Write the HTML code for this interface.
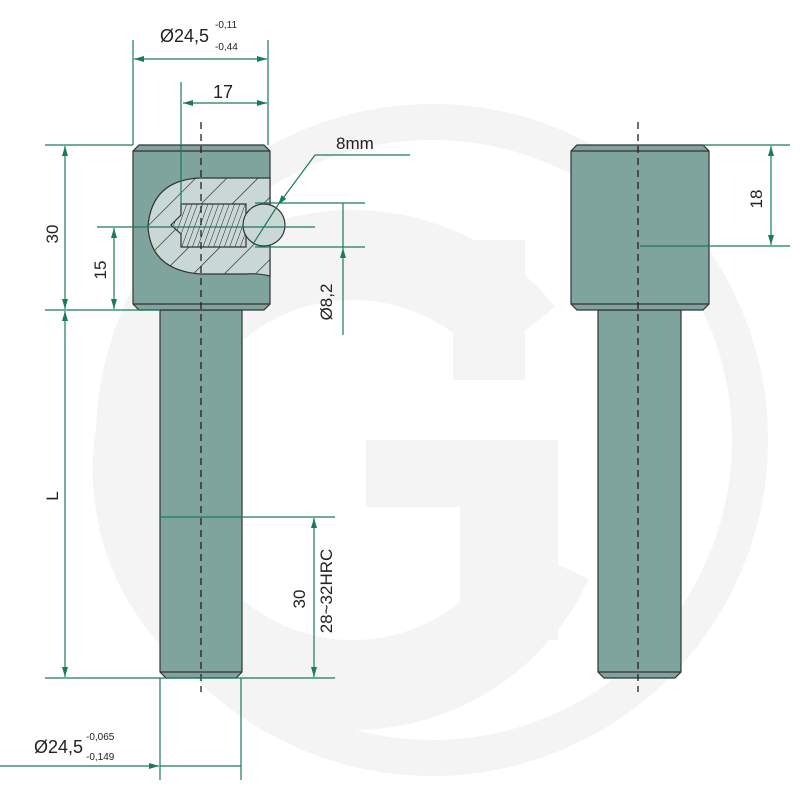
<!DOCTYPE html>
<html><head><meta charset="utf-8"><style>
html,body{margin:0;padding:0;background:#fff;width:800px;height:800px;overflow:hidden}
text{font-family:"Liberation Sans","DejaVu Sans",sans-serif;fill:#222}
</style></head><body>
<svg width="800" height="800" viewBox="0 0 800 800" xmlns="http://www.w3.org/2000/svg">
<defs>
<marker id="a" viewBox="0 0 10 6" refX="10" refY="3" markerWidth="10" markerHeight="6" orient="auto-start-reverse" markerUnits="userSpaceOnUse"><path d="M0,0 L10,3 L0,6z" fill="#1a7a5e"/></marker>
<pattern id="h" width="22" height="22" patternUnits="userSpaceOnUse" patternTransform="rotate(45)"><rect width="22" height="22" fill="#c9d8d5"/><line x1="0" y1="0" x2="0" y2="22" stroke="#222" stroke-width="1.3"/></pattern>
<pattern id="t" width="5" height="10" patternUnits="userSpaceOnUse" patternTransform="rotate(20)"><rect width="5" height="10" fill="#c9d8d5"/><line x1="0" y1="0" x2="0" y2="10" stroke="#222" stroke-width="1"/></pattern>
</defs>
<!-- watermark -->
<g fill="none" stroke="#f4f4f4">
<circle cx="432" cy="440" r="318" stroke-width="36"/>
<path d="M520,335 A215,215 0 1 0 548,560" stroke-width="90"/>
</g>
<rect x="453" y="240" width="72" height="140" fill="#f4f4f4"/>
<rect x="366" y="440" width="192" height="67" fill="#f4f4f4"/>
<rect x="460" y="440" width="98" height="200" fill="#f4f4f4"/>
<!-- left pin -->
<g stroke="#333" stroke-width="1.2">
<path d="M160,310 H242 V672 L236,678 H166 L160,672Z" fill="#7fa39d"/>
<path d="M139,145 H264 L270,151 V304 L264,310 H139 L133,304 V151Z" fill="#7fa39d"/>
<line x1="133" y1="151" x2="270" y2="151"/><line x1="133" y1="304" x2="270" y2="304"/>
<line x1="160" y1="672" x2="242" y2="672"/>
<path d="M200,178 H270 V276 Q258,273 245,274 H200 Q150,270 148,226 Q152,180 200,178Z" fill="url(#h)"/>
<path d="M181,204 H246 V247 H181 V234 L171,225 L181,215Z" fill="url(#t)"/>
<circle cx="264" cy="225" r="21" fill="#c9d8d5"/>
</g>
<line x1="201" y1="122" x2="201" y2="692" stroke="#222" stroke-width="1.3" stroke-dasharray="7,5"/>
<!-- right pin -->
<g stroke="#333" stroke-width="1.2">
<path d="M598,310 H681 V672 L675,678 H604 L598,672Z" fill="#7fa39d"/>
<path d="M577,145 H703 L709,151 V304 L703,310 H577 L571,304 V151Z" fill="#7fa39d"/>
<line x1="571" y1="151" x2="709" y2="151"/><line x1="571" y1="304" x2="709" y2="304"/>
<line x1="598" y1="672" x2="681" y2="672"/>
</g>
<line x1="638" y1="122" x2="638" y2="692" stroke="#222" stroke-width="1.3" stroke-dasharray="7,5"/>
<!-- dimensions -->
<g stroke="#1a7a5e" stroke-width="1.2" fill="none">
<line x1="133" y1="40" x2="133" y2="145"/><line x1="268" y1="40" x2="268" y2="145"/>
<line x1="134" y1="59" x2="267" y2="59" marker-start="url(#a)" marker-end="url(#a)"/>
<line x1="181" y1="82" x2="181" y2="205"/>
<line x1="183" y1="103" x2="267" y2="103" marker-start="url(#a)" marker-end="url(#a)"/>
<line x1="45" y1="145" x2="133" y2="145"/><line x1="45" y1="310" x2="160" y2="310"/>
<line x1="65" y1="146" x2="65" y2="309" marker-start="url(#a)" marker-end="url(#a)"/>
<line x1="97" y1="227" x2="315" y2="227"/>
<line x1="114" y1="228" x2="114" y2="309" marker-start="url(#a)" marker-end="url(#a)"/>
<line x1="255" y1="203" x2="365" y2="203"/><line x1="255" y1="247" x2="365" y2="247"/>
<line x1="343" y1="203" x2="343" y2="335"/>
<line x1="410" y1="155" x2="315" y2="155"/>
<line x1="315" y1="155" x2="278" y2="205" marker-end="url(#a)"/>
<line x1="278" y1="205" x2="253" y2="244"/>
<line x1="45" y1="678" x2="335" y2="678"/>
<line x1="65" y1="311" x2="65" y2="677" marker-start="url(#a)" marker-end="url(#a)"/>
<line x1="160" y1="517" x2="335" y2="517"/>
<line x1="314" y1="518" x2="314" y2="677" marker-start="url(#a)" marker-end="url(#a)"/>
<line x1="160" y1="678" x2="160" y2="780"/><line x1="241" y1="678" x2="241" y2="780"/>
<line x1="0" y1="766" x2="159" y2="766" marker-end="url(#a)"/><line x1="160" y1="766" x2="241" y2="766"/>
<line x1="703" y1="145" x2="790" y2="145"/><line x1="640" y1="246" x2="790" y2="246"/>
<line x1="771" y1="146" x2="771" y2="245" marker-start="url(#a)" marker-end="url(#a)"/>
</g>
<path d="M343,248 L340,258 L346,258Z" fill="#1a7a5e"/>
<!-- labels -->
<text x="160" y="42" font-size="18">Ø24,5</text>
<text x="215" y="28" font-size="10">-0,11</text>
<text x="215" y="50" font-size="10">-0,44</text>
<text x="213" y="98" font-size="18">17</text>
<text x="336" y="149" font-size="17">8mm</text>
<text x="34" y="753" font-size="18">Ø24,5</text>
<text x="86" y="740" font-size="10">-0,065</text>
<text x="86" y="760" font-size="10">-0,149</text>
<text transform="translate(58,234) rotate(-90)" font-size="17" text-anchor="middle">30</text>
<text transform="translate(106,270) rotate(-90)" font-size="17" text-anchor="middle">15</text>
<text transform="translate(332,302) rotate(-90)" font-size="17" text-anchor="middle">Ø8,2</text>
<text transform="translate(58,496) rotate(-90)" font-size="17" text-anchor="middle">L</text>
<text transform="translate(305,599) rotate(-90)" font-size="17" text-anchor="middle">30</text>
<text transform="translate(332,591) rotate(-90)" font-size="17" text-anchor="middle">28~32HRC</text>
<text transform="translate(762,199) rotate(-90)" font-size="17" text-anchor="middle">18</text>
</svg>
</body></html>
